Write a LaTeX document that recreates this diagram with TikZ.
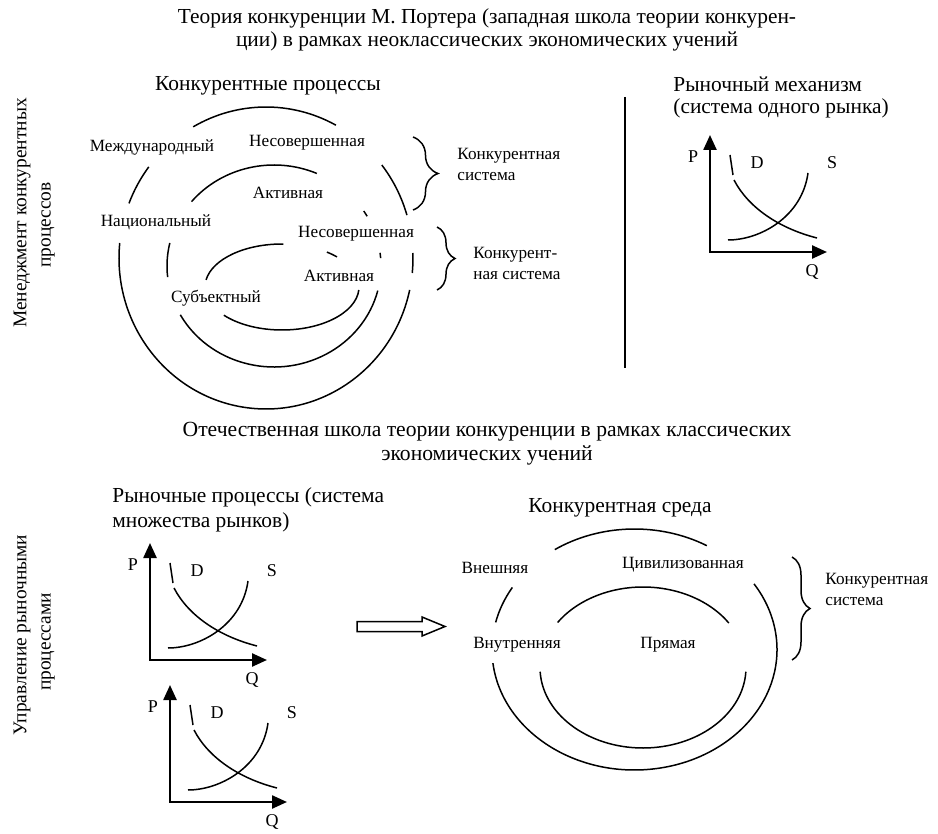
\documentclass[tikz,border=0pt]{standalone}
\usepackage{fontspec}
\setmainfont{Liberation Serif}
\usetikzlibrary{arrows.meta, decorations.pathreplacing}

\begin{document}
\begin{tikzpicture}[x=0.5pt, y=-0.5pt,
  >={Triangle[length=7.5pt, width=6.5pt]},
  every node/.style={inner sep=0pt},
  lbl/.style={font=\fontsize{8.6}{10.5}\selectfont},
  head/.style={font=\fontsize{10.7}{12.5}\selectfont},
  ttl/.style={font=\fontsize{10.7}{11.5}\selectfont, align=center},
  side/.style={font=\fontsize{9.7}{11}\selectfont, rotate=90},
  pq/.style={font=\fontsize{9}{10}\selectfont},
  ringline/.style={line width=0.75pt},
  pqaxis/.style={line width=1.2pt},
  dscurve/.style={line width=0.75pt},
  cbrace/.style={decorate, decoration={brace, amplitude=#1}, line width=0.75pt}
 ]
 \useasboundingbox (0,0) rectangle (938,834);

 % titles
 \node [ttl] (porter) at (487,30) {Теория конкуренции М. Портера (западная школа теории конкурен-\\ции) в рамках неоклассических экономических учений};
 \node [ttl, font=\fontsize{10.8}{12}\selectfont] (otech) at (487,444) {Отечественная школа теории конкуренции в рамках классических\\экономических учений};
 \node [side] (mgmtA) at (22,213) {Менеджмент конкурентных};
 \node [side] (mgmtB) at (48,225) {процессов};
 \node [side] (uprA) at (22,635) {Управление рыночными};
 \node [side] (uprB) at (48,642) {процессами};

 % competitive processes
 \node [head] (konkproc) at (268,86) {Конкурентные процессы};
 \foreach \cx/\cy/\rx/\ry/\a/\b in {
   266/258/147/151/-61.6/-119.7, 266/258/147/151/-142.9/-158.8,
   266/258/147/151/-174.3/-347.8, 266/258/147/151/5.7/-1.9,
   266/258/147/151/-16.5/-38,
   274/266/107/101/-66.4/-140.4, 274/266/107/101/-166.8/-186.3,
   274/266/107/101/-208.9/-345.9, 274/266/107/101/-29.5/-33,
   274/266/107/101/-4.5/-7.5,
   282/287/77/43/-89/-170.5, 282/287/77/43/-221/-356,
   282/287/77/43/-44.4/-54.3} {
  \draw [ringline] ({\cx+\rx*cos(\a)},{\cy+\ry*sin(\a)}) arc [start angle=\a, end angle=\b, x radius=\rx, y radius=\ry];
 }
 \node [lbl] (mezhd) at (152,147) {Международный};
 \node [lbl] (nesovA) at (307,143) {Несовершенная};
 \node [lbl] (aktivA) at (288,193) {Активная};
 \node [lbl] (nats) at (156,222) {Национальный};
 \node [lbl] (nesovB) at (356,234) {Несовершенная};
 \node [lbl] (aktivB) at (339,276) {Активная};
 \node [lbl] (subj) at (216,298) {Субъектный};

 \coordinate (bAtop) at (413,137);
 \coordinate (bAbot) at (413,210);
 \coordinate (bBtop) at (437,227);
 \coordinate (bBbot) at (437,290);
 \draw [cbrace=12.5pt] (bAtop) -- (bAbot);
 \draw [cbrace=9pt] (bBtop) -- (bBbot);
 \node [lbl, anchor=west, align=left] (ksysA) at (457,164) {Конкурентная\\система};
 \node [lbl, anchor=west, align=left] (ksysB) at (473,263) {Конкурент-\\ная система};

 % market mechanism
 \coordinate (divtop) at (625,97);
 \coordinate (divbot) at (625,368);
 \draw [ringline] (divtop) -- (divbot);
 \node [head, anchor=west, align=left, font=\fontsize{10.7}{11}\selectfont] (rynmech) at (673,97) {Рыночный механизм\\(система одного рынка)};
 \node [head, anchor=west, align=left] (rynproc) at (112,509.5) {Рыночные процессы (система\\множества рынков)};

 \foreach \ox/\oy [count=\i] in {710/252, 150/660, 170/802} {
  \begin{scope}[shift={(\ox,\oy)}]
   \draw [pqaxis, <->] (0,-117) -- (0,0) -- (117,0);
   \draw [dscurve] (20,-97) -- (23,-77);
   \draw [dscurve] (24,-72) .. controls (38,-45) and (68,-24) .. (107,-14);
   \draw [dscurve] (18,-12) .. controls (50,-12) and (92,-35) .. (98,-79);
   \node [pq] (P\i) at (-17,-95) {P};
   \node [pq] (D\i) at (47,-89) {D};
   \node [pq] (S\i) at (122,-89) {S};
   \node [pq] (Q\i) at (102,20) {Q};
  \end{scope}
 }

 % hollow arrow
 \draw [ringline] (357,621.5) -- (422,621.5) -- (422,617) -- (445,626.5)
   -- (422,636) -- (422,631.5) -- (357,631.5) -- cycle;

 % competitive environment
 \node [head] (konksreda) at (620,508) {Конкурентная среда};
 \foreach \cx/\cy/\rx/\ry/\a/\b in {
   634.5/649.5/142.5/120.5/-59.5/-124, 634.5/649.5/142.5/120.5/-149/-167,
   634.5/649.5/142.5/120.5/-186.5/-393,
   643/667.5/103/80.5/-33.5/-146, 643/667.5/103/80.5/-183/-357} {
  \draw [ringline] ({\cx+\rx*cos(\a)},{\cy+\ry*sin(\a)}) arc [start angle=\a, end angle=\b, x radius=\rx, y radius=\ry];
 }
 \node [lbl] (vnesh) at (495,568) {Внешняя};
 \node [lbl] (tsiv) at (683,565) {Цивилизованная};
 \node [lbl] (vnutr) at (517,645) {Внутренняя};
 \node [lbl] (pryam) at (668,645) {Прямая};
 \coordinate (bCtop) at (792,557);
 \coordinate (bCbot) at (792,660);
 \draw [cbrace=9pt] (bCtop) -- (bCbot);
 \node [lbl, anchor=west, align=left] (ksysC) at (825,589) {Конкурентная\\система};
\end{tikzpicture}
\end{document}
